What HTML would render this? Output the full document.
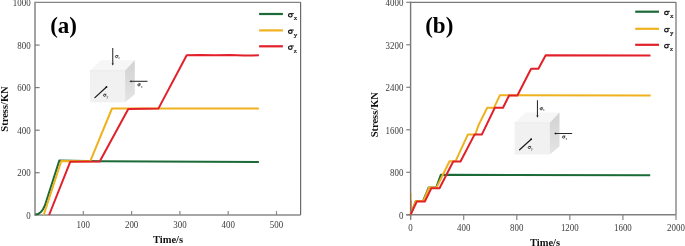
<!DOCTYPE html><html><head><meta charset="utf-8"><style>
html,body{margin:0;padding:0;background:#fff;width:685px;height:246px;overflow:hidden}
svg{display:block;will-change:transform}
text{font-family:"Liberation Serif",serif}
.tk{font-size:9.8px;fill:#3a3a3a}
.lab{font-size:10.5px;font-weight:bold;fill:#111}
.pl{font-size:23px;font-weight:bold;fill:#000}
.lg{font-size:10px;fill:#111;font-weight:bold}
.lgs{font-size:6.9px;fill:#111;stroke:#111;stroke-width:0.2}
.cs{font-size:4px;fill:#222;font-weight:bold}
</style></head><body>
<svg width="685" height="246" viewBox="0 0 685 246">
<defs>
<linearGradient id="rg" x1="0" y1="0" x2="0" y2="1"><stop offset="0" stop-color="#d2d2d2"/><stop offset="1" stop-color="#e4e4e4"/></linearGradient>
<g id="cube"><polygon points="89.9,70.6 100.8,60.2 134.8,60.2 125.1,70.6" fill="#f6f6f6"/><rect x="89.9" y="70.6" width="35.2" height="31.7" fill="#f1f1f1"/><line x1="89.9" y1="70.7" x2="125.1" y2="70.7" stroke="#e6e6e6" stroke-width="0.6"/><polygon points="125.1,70.6 134.8,60.2 134.8,94.2 125.1,102.3" fill="url(#rg)"/><line x1="112.75" y1="48" x2="112.75" y2="64" stroke="#2a2a2a" stroke-width="1.05"/><polygon points="111.6,63.4 113.9,63.4 112.75,65.6" fill="#222"/><line x1="147.5" y1="81.3" x2="131" y2="81.3" stroke="#2a2a2a" stroke-width="1.05"/><polygon points="131.4,80.15 131.4,82.45 129.4,81.3" fill="#222"/><line x1="94.9" y1="97.6" x2="106.2" y2="87.3" stroke="#1a1a1a" stroke-width="1.2" stroke-linecap="round"/><circle cx="106.5" cy="87.0" r="0.9" fill="#111"/><ellipse cx="116.50" cy="56.60" rx="1.15" ry="1.05" fill="none" stroke="#222" stroke-width="0.85"/><path d="M116.50 55.55H118.40" stroke="#222" stroke-width="0.7"/><text x="118.30" y="59.20" font-size="3.6" fill="#333" font-family="Liberation Serif">z</text><ellipse cx="138.90" cy="84.90" rx="1.15" ry="1.05" fill="none" stroke="#222" stroke-width="0.85"/><path d="M138.90 83.85H140.80" stroke="#222" stroke-width="0.7"/><text x="140.70" y="87.50" font-size="3.6" fill="#333" font-family="Liberation Serif">x</text><ellipse cx="104.60" cy="95.30" rx="1.15" ry="1.05" fill="none" stroke="#222" stroke-width="0.85"/><path d="M104.60 94.25H106.50" stroke="#222" stroke-width="0.7"/><text x="106.40" y="97.90" font-size="3.6" fill="#333" font-family="Liberation Serif">y</text></g>
</defs>
<line x1="35.0" y1="2.4" x2="300.6" y2="2.4" stroke="#858585" stroke-width="1.3"/>
<line x1="300.6" y1="2.3" x2="300.6" y2="215.1" stroke="#6a6a6a" stroke-width="1.2"/>
<line x1="35.0" y1="1.6999999999999997" x2="35.0" y2="215.7" stroke="#999" stroke-width="1.8"/>
<line x1="35.0" y1="215.1" x2="300.6" y2="215.1" stroke="#8a8a8a" stroke-width="1.5"/>
<text transform="translate(30.6,218.8) scale(0.91,1)" class="tk" text-anchor="end">0</text>
<line x1="35.0" y1="172.7" x2="39.6" y2="172.7" stroke="#7a7a7a" stroke-width="1.2"/>
<text transform="translate(30.6,176.2) scale(0.91,1)" class="tk" text-anchor="end">200</text>
<line x1="35.0" y1="130.2" x2="39.6" y2="130.2" stroke="#7a7a7a" stroke-width="1.2"/>
<text transform="translate(30.6,133.7) scale(0.91,1)" class="tk" text-anchor="end">400</text>
<line x1="35.0" y1="87.6" x2="39.6" y2="87.6" stroke="#7a7a7a" stroke-width="1.2"/>
<text transform="translate(30.6,91.1) scale(0.91,1)" class="tk" text-anchor="end">600</text>
<line x1="35.0" y1="45.1" x2="39.6" y2="45.1" stroke="#7a7a7a" stroke-width="1.2"/>
<text transform="translate(30.6,48.6) scale(0.91,1)" class="tk" text-anchor="end">800</text>
<text transform="translate(30.6,6.0) scale(0.91,1)" class="tk" text-anchor="end">1000</text>
<line x1="83.3" y1="215.1" x2="83.3" y2="211.1" stroke="#8a8a8a" stroke-width="1.2"/>
<text transform="translate(83.3,228.3) scale(0.91,1)" class="tk" text-anchor="middle">100</text>
<line x1="131.6" y1="215.1" x2="131.6" y2="211.1" stroke="#8a8a8a" stroke-width="1.2"/>
<text transform="translate(131.6,228.3) scale(0.91,1)" class="tk" text-anchor="middle">200</text>
<line x1="179.9" y1="215.1" x2="179.9" y2="211.1" stroke="#8a8a8a" stroke-width="1.2"/>
<text transform="translate(179.9,228.3) scale(0.91,1)" class="tk" text-anchor="middle">300</text>
<line x1="228.2" y1="215.1" x2="228.2" y2="211.1" stroke="#8a8a8a" stroke-width="1.2"/>
<text transform="translate(228.2,228.3) scale(0.91,1)" class="tk" text-anchor="middle">400</text>
<line x1="276.5" y1="215.1" x2="276.5" y2="211.1" stroke="#8a8a8a" stroke-width="1.2"/>
<text transform="translate(276.5,228.3) scale(0.91,1)" class="tk" text-anchor="middle">500</text>
<text x="168" y="243" class="lab" text-anchor="middle">Time/s</text>
<text transform="translate(7.6,109.0) rotate(-90)" class="lab" text-anchor="middle">Stress/KN</text>
<text x="50.2" y="32.9" class="pl">(a)</text>
<use href="#cube"/>
<polyline points="35.3,214.6 38.0,214.1 40.6,212.3 43.0,209.3 45.0,205.2 59.3,160.6 100.0,161.2 258.9,162.0" fill="none" stroke="#1b6a37" stroke-width="2" stroke-linejoin="round"/>
<polyline points="43.7,215.0 61.3,161.0 90.2,161.3 112.0,108.5 258.9,108.5" fill="none" stroke="#f0b11e" stroke-width="2" stroke-linejoin="round"/>
<polyline points="49.1,215.0 70.2,161.8 99.7,161.5 128.3,109.0 158.4,108.6 186.7,55.3 200.0,55.0 215.0,55.3 230.0,55.0 244.0,55.6 252.0,55.4 258.9,55.2" fill="none" stroke="#e2202a" stroke-width="2" stroke-linejoin="round"/>
<line x1="259.1" y1="14.0" x2="282.9" y2="14.0" stroke="#1b6a37" stroke-width="2.2"/>
<ellipse cx="290.30" cy="15.35" rx="1.8" ry="1.65" fill="none" stroke="#1a1a1a" stroke-width="1.2"/><path d="M290.30 13.60H293.80" stroke="#1a1a1a" stroke-width="1.0"/><text x="293.80" y="20.40" class="lgs">x</text>
<line x1="259.1" y1="30.4" x2="282.9" y2="30.4" stroke="#f0b11e" stroke-width="2.2"/>
<ellipse cx="290.30" cy="31.75" rx="1.8" ry="1.65" fill="none" stroke="#1a1a1a" stroke-width="1.2"/><path d="M290.30 30.00H293.80" stroke="#1a1a1a" stroke-width="1.0"/><text x="293.80" y="36.80" class="lgs">y</text>
<line x1="259.1" y1="46.3" x2="282.9" y2="46.3" stroke="#e2202a" stroke-width="2.2"/>
<ellipse cx="290.30" cy="47.65" rx="1.8" ry="1.65" fill="none" stroke="#1a1a1a" stroke-width="1.2"/><path d="M290.30 45.90H293.80" stroke="#1a1a1a" stroke-width="1.0"/><text x="293.80" y="52.70" class="lgs">z</text>
<line x1="410.6" y1="2.3" x2="676.0" y2="2.3" stroke="#7a7a7a" stroke-width="1.3"/>
<line x1="676.0" y1="2.3" x2="676.0" y2="214.8" stroke="#7a7a7a" stroke-width="1.3"/>
<line x1="410.6" y1="1.6999999999999997" x2="410.6" y2="219.3" stroke="#777" stroke-width="1.4"/>
<line x1="406.3" y1="214.8" x2="676.0" y2="214.8" stroke="#808080" stroke-width="1.4"/>
<line x1="406.3" y1="214.8" x2="410.6" y2="214.8" stroke="#808080" stroke-width="1.2"/>
<text transform="translate(403.4,218.5) scale(0.91,1)" class="tk" text-anchor="end">0</text>
<line x1="406.3" y1="172.3" x2="410.6" y2="172.3" stroke="#808080" stroke-width="1.2"/>
<text transform="translate(403.4,176.0) scale(0.91,1)" class="tk" text-anchor="end">800</text>
<line x1="406.3" y1="129.8" x2="410.6" y2="129.8" stroke="#808080" stroke-width="1.2"/>
<text transform="translate(403.4,133.5) scale(0.91,1)" class="tk" text-anchor="end">1600</text>
<line x1="406.3" y1="87.3" x2="410.6" y2="87.3" stroke="#808080" stroke-width="1.2"/>
<text transform="translate(403.4,91.0) scale(0.91,1)" class="tk" text-anchor="end">2400</text>
<line x1="406.3" y1="44.8" x2="410.6" y2="44.8" stroke="#808080" stroke-width="1.2"/>
<text transform="translate(403.4,48.5) scale(0.91,1)" class="tk" text-anchor="end">3200</text>
<line x1="406.3" y1="2.3" x2="410.6" y2="2.3" stroke="#808080" stroke-width="1.2"/>
<text transform="translate(403.4,6.0) scale(0.91,1)" class="tk" text-anchor="end">4000</text>
<line x1="410.6" y1="214.8" x2="410.6" y2="220.0" stroke="#858585" stroke-width="1.2"/>
<text transform="translate(410.6,231.0) scale(0.91,1)" class="tk" text-anchor="middle">0</text>
<line x1="463.7" y1="214.8" x2="463.7" y2="220.0" stroke="#858585" stroke-width="1.2"/>
<text transform="translate(463.7,231.0) scale(0.91,1)" class="tk" text-anchor="middle">400</text>
<line x1="516.8" y1="214.8" x2="516.8" y2="220.0" stroke="#858585" stroke-width="1.2"/>
<text transform="translate(516.8,231.0) scale(0.91,1)" class="tk" text-anchor="middle">800</text>
<line x1="569.8" y1="214.8" x2="569.8" y2="220.0" stroke="#858585" stroke-width="1.2"/>
<text transform="translate(569.8,231.0) scale(0.91,1)" class="tk" text-anchor="middle">1200</text>
<line x1="622.9" y1="214.8" x2="622.9" y2="220.0" stroke="#858585" stroke-width="1.2"/>
<text transform="translate(622.9,231.0) scale(0.91,1)" class="tk" text-anchor="middle">1600</text>
<line x1="676.0" y1="214.8" x2="676.0" y2="220.0" stroke="#858585" stroke-width="1.2"/>
<text transform="translate(676.0,231.0) scale(0.91,1)" class="tk" text-anchor="middle">2000</text>
<text x="545" y="246" class="lab" text-anchor="middle">Time/s</text>
<text transform="translate(377.6,114.7) rotate(-90)" class="lab" text-anchor="middle">Stress/KN</text>
<text x="425.2" y="32.9" class="pl">(b)</text>
<use href="#cube" transform="translate(424.7,52.2)"/>
<line x1="411.5" y1="193.2" x2="411.5" y2="214" stroke="#f0b11e" stroke-width="1" opacity="0.6"/>
<line x1="411.5" y1="200.5" x2="411.5" y2="214" stroke="#e2202a" stroke-width="1" opacity="0.4"/>
<polyline points="410.6,214.6 415.8,201.0 423.1,201.0 428.6,187.6 436.2,187.6 440.8,174.8 650.2,175.3" fill="none" stroke="#1b6a37" stroke-width="2" stroke-linejoin="round"/>
<polyline points="410.6,214.6 415.8,201.0 423.5,201.0 429.0,187.6 436.5,187.6 449.5,161.2 455.6,161.2 467.8,134.6 475.3,134.6 477.2,128.8 478.8,124.6 487.2,107.8 494.0,107.8 499.9,95.2 650.7,95.6" fill="none" stroke="#f0b11e" stroke-width="2" stroke-linejoin="round"/>
<polyline points="410.6,214.6 416.8,201.6 424.8,201.6 431.3,188.2 439.5,188.2 453.2,161.5 460.5,161.5 474.5,134.6 481.8,134.6 494.8,107.8 503.0,107.8 509.1,95.5 517.4,95.5 531.1,68.7 538.4,68.7 545.7,55.3 650.5,55.5" fill="none" stroke="#e2202a" stroke-width="2" stroke-linejoin="round"/>
<line x1="635.2" y1="11.7" x2="659" y2="11.7" stroke="#1b6a37" stroke-width="2.2"/>
<ellipse cx="666.40" cy="13.05" rx="1.8" ry="1.65" fill="none" stroke="#1a1a1a" stroke-width="1.2"/><path d="M666.40 11.30H669.90" stroke="#1a1a1a" stroke-width="1.0"/><text x="669.90" y="18.10" class="lgs">x</text>
<line x1="635.2" y1="28.8" x2="659" y2="28.8" stroke="#f0b11e" stroke-width="2.2"/>
<ellipse cx="666.40" cy="30.15" rx="1.8" ry="1.65" fill="none" stroke="#1a1a1a" stroke-width="1.2"/><path d="M666.40 28.40H669.90" stroke="#1a1a1a" stroke-width="1.0"/><text x="669.90" y="35.20" class="lgs">y</text>
<line x1="635.2" y1="44.8" x2="659" y2="44.8" stroke="#e2202a" stroke-width="2.2"/>
<ellipse cx="666.40" cy="46.15" rx="1.8" ry="1.65" fill="none" stroke="#1a1a1a" stroke-width="1.2"/><path d="M666.40 44.40H669.90" stroke="#1a1a1a" stroke-width="1.0"/><text x="669.90" y="51.20" class="lgs">z</text>
</svg></body></html>
